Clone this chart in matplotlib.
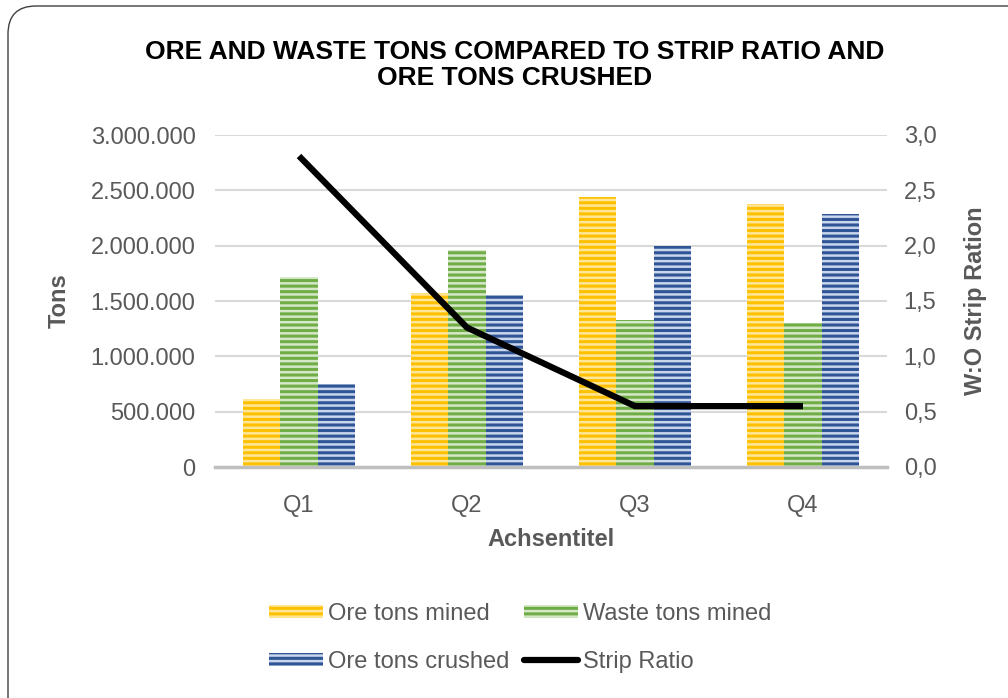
import numpy as np
import matplotlib.pyplot as plt
from matplotlib.patches import FancyBboxPatch, Patch
from matplotlib.lines import Line2D
from matplotlib.ticker import FuncFormatter, MultipleLocator

quarters = ['Q1', 'Q2', 'Q3', 'Q4']
ore_mined = [610000, 1570000, 2440000, 2380000]
waste_mined = [1720000, 1960000, 1330000, 1300000]
ore_crushed = [750000, 1550000, 2000000, 2290000]
strip_ratio = [2.81, 1.26, 0.55, 0.55]

plt.rcParams['font.family'] = ['Liberation Sans', 'DejaVu Sans']
plt.rcParams['hatch.linewidth'] = 2.2

TXT = '#595959'
GRID = '#D9D9D9'
FS = 17

fig = plt.figure(figsize=(10.08, 6.98), dpi=100)

# rounded chart border, in pixels (right and bottom run off the image)
border = FancyBboxPatch((8, -30), 1100, 698 - 6 + 30,
                        boxstyle='round,pad=0,rounding_size=28',
                        transform=None, fill=False,
                        edgecolor='#404040', linewidth=1.0)
fig.patches.append(border)

ax = fig.add_axes([215 / 1008, 1 - 467 / 698, 672 / 1008, 332 / 698])
ax2 = ax.twinx()

x = np.arange(len(quarters))
w = 0.222
series = [
    (ore_mined, '#FFE699', '#FFC000', 'Ore tons mined'),
    (waste_mined, '#D5E8C8', '#70AD47', 'Waste tons mined'),
    (ore_crushed, '#C9D6EC', '#2F5597', 'Ore tons crushed'),
]
handles = []
for i, (vals, light, dark, name) in enumerate(series):
    ax.bar(x + (i - 1) * w, vals, w, color=light, edgecolor=dark,
           hatch='---', linewidth=0, zorder=2)
    handles.append(Patch(facecolor=light, edgecolor=dark, hatch='---',
                         linewidth=0, label=name))

ax2.plot(x, strip_ratio, color='black', linewidth=4.5, solid_capstyle='butt',
         zorder=3)
handles.append(Line2D([0], [0], color='black', linewidth=4.5,
                      solid_capstyle='round', label='Strip Ratio'))

ax.set_xlim(-0.5, len(quarters) - 0.5)
ax.set_ylim(0, 3000000)
ax2.set_ylim(0, 3.0)
ax.yaxis.set_major_locator(MultipleLocator(500000))
ax2.yaxis.set_major_locator(MultipleLocator(0.5))
ax.yaxis.set_major_formatter(FuncFormatter(lambda v, p: f'{int(v):,}'.replace(',', '.')))
ax2.yaxis.set_major_formatter(FuncFormatter(lambda v, p: f'{v:.1f}'.replace('.', ',')))

ax.set_xticks(x)
ax.set_xticklabels(quarters)
ax.grid(axis='y', color=GRID, linewidth=1.5, zorder=0)
ax.set_axisbelow(True)

for a in (ax, ax2):
    for s in a.spines.values():
        s.set_visible(False)
    a.tick_params(length=0, colors=TXT, labelsize=FS)
ax.spines['bottom'].set_visible(True)
ax.spines['bottom'].set_color('#BFBFBF')
ax.spines['bottom'].set_linewidth(2.5)
ax.tick_params(axis='y', pad=14)
ax2.tick_params(axis='y', pad=12)
ax.tick_params(axis='x', pad=20)

ax.set_ylabel('Tons', fontsize=FS, fontweight='bold', color=TXT, labelpad=14)
ax2.set_ylabel('W:O Strip Ration', fontsize=FS, fontweight='bold', color=TXT,
               labelpad=20)
ax.set_xlabel('Achsentitel', fontsize=FS, fontweight='bold', color=TXT, labelpad=8)

fig.text(515 / 1008, 1 - 65 / 698,
         'ORE AND WASTE TONS COMPARED TO STRIP RATIO AND\nORE TONS CRUSHED',
         ha='center', va='center', fontsize=19, fontweight='bold',
         color='black', linespacing=1.15)

# legend fills column-wise: order so rows read ore/waste, crushed/strip
leg_order = [handles[0], handles[2], handles[1], handles[3]]
fig.legend(handles=leg_order, loc='center', bbox_to_anchor=(520 / 1008, 1 - 638 / 698),
           ncol=2, frameon=False, fontsize=FS, labelcolor=TXT,
           handlelength=2.3, handleheight=0.5, handletextpad=0.2,
           columnspacing=0.6, labelspacing=1.1)

fig.savefig('out.png', dpi=100)
